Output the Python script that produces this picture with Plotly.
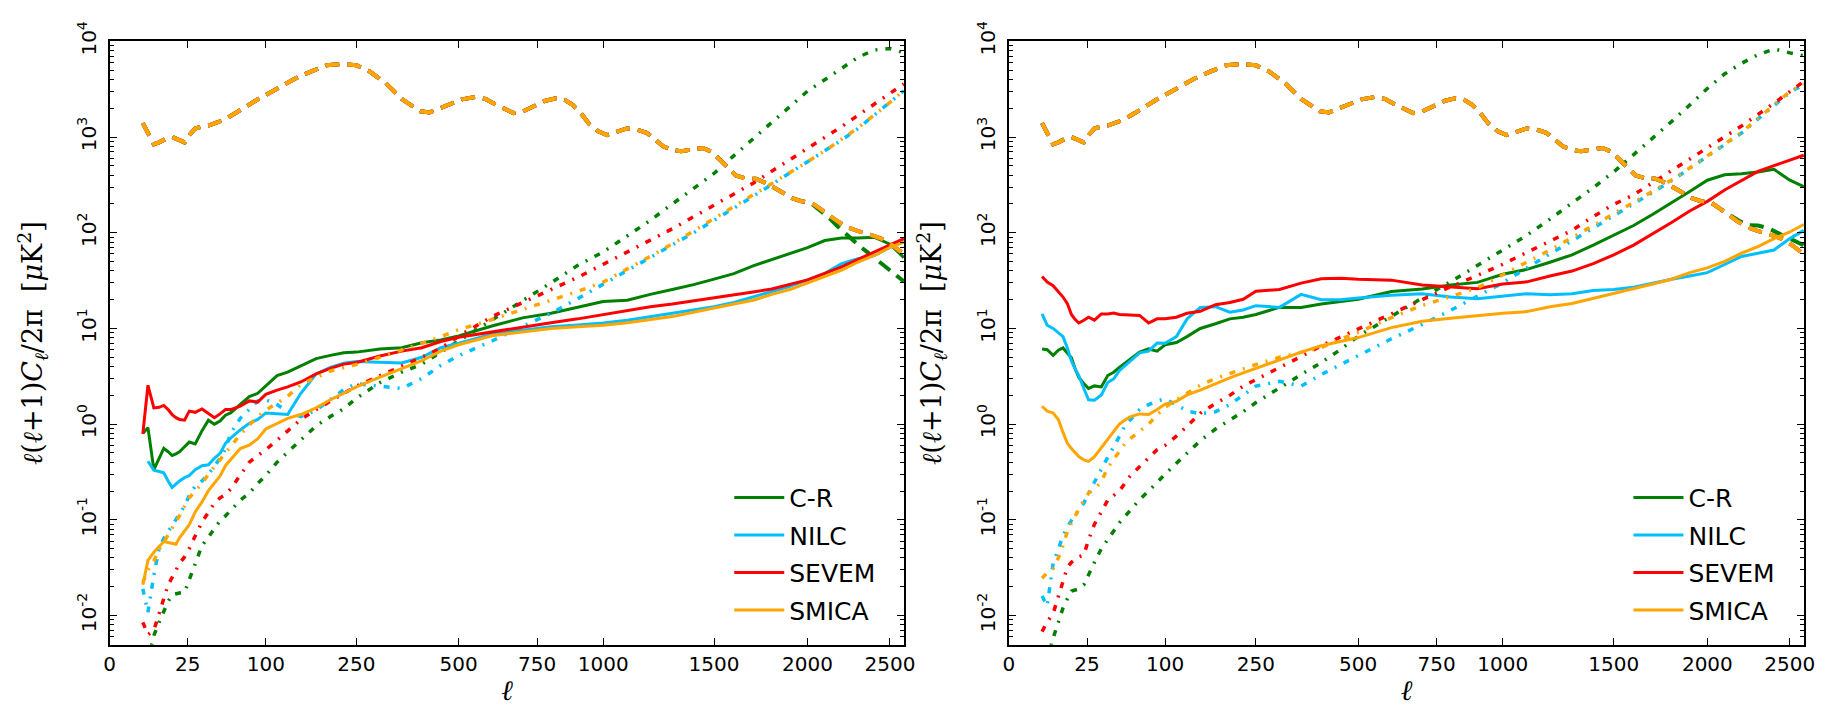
import numpy as np
import plotly.graph_objects as go

# Multipole grid (bin centres) shared by residual and noise spectra
ell = [4.5, 6, 8, 10, 12, 14, 16, 18, 20, 23, 26,
       30, 35, 40, 45, 50, 55, 60, 70, 80, 90, 100,
       115, 130, 150, 175, 200, 225, 250, 300, 350, 400, 450,
       500, 600, 700, 800, 900, 1000, 1100, 1200, 1300, 1400, 1500,
       1600, 1700, 1800, 1900, 2000, 2100, 2200, 2300, 2400, 2500, 2590]

# ---- left panel: residual spectra (solid) ----
cr_res_L = [0.80, 0.92, 0.335, 0.44, 0.56, 0.515, 0.47, 0.49, 0.515, 0.58, 0.65,
            0.62, 0.855, 1.10, 1.00, 1.08, 1.24, 1.31, 1.60, 1.94, 2.10, 2.51,
            3.22, 3.49, 4.07, 4.84, 5.23, 5.57, 5.66, 6.11, 6.3, 7.1, 7.6,
            8.36, 10.6, 12.9, 14.4, 16.6, 19.1, 19.7, 22.7, 25.5, 28.7, 32.8,
            37.4, 45.1, 52.3, 60.2, 70, 83, 88, 88, 90, 76, 55]
nilc_res_L = [None, 0.41, 0.33, 0.32, 0.31, 0.255, 0.218, 0.236, 0.255, 0.276, 0.29,
              0.335, 0.368, 0.376, 0.44, 0.495, 0.63, 0.715, 0.87, 1.02, 1.12, 1.31,
              1.28, 1.26, 2.10, 3.35, 3.92, 4.34, 4.51, 4.40, 4.35, 5.0, 6.3,
              7.0, 8.7, 9.6, 10.4, 10.9, 11.4, 12.2, 13.3, 14.2, 15.4, 16.9,
              18.7, 21.3, 24.2, 27.6, 32.2, 37.7, 47.6, 53.5, 57.9, 70.3, 81]
sevem_res_L = [0.79, 2.55, 1.48, 1.50, 1.57, 1.42, 1.26, 1.17, 1.12, 1.10, 1.37,
               1.33, 1.44, 1.28, 1.17, 1.28, 1.42, 1.42, 1.54, 1.75, 1.70, 2.05,
               2.27, 2.45, 2.76, 3.35, 3.83, 4.24, 4.41, 5.15, 5.8, 6.3, 7.3,
               8.1, 9.25, 10.4, 11.5, 12.6, 14.0, 15.4, 16.9, 18.0, 19.4, 20.7,
               22.3, 24.0, 25.9, 28.7, 32.2, 37.7, 44, 52.7, 62.6, 75, 87]
smica_res_L = [0.021, 0.0377, 0.0458, 0.0523, 0.0593, 0.058, 0.0565, 0.0557, 0.065, 0.076, 0.089,
               0.121, 0.154, 0.202, 0.242, 0.287, 0.368, 0.424, 0.557, 0.602, 0.704, 0.89,
               1.02, 1.15, 1.26, 1.48, 1.8, 2.1, 2.45, 3.1, 3.8, 4.6, 5.8,
               6.76, 8.4, 9.25, 10.0, 10.4, 10.8, 11.5, 12.4, 13.3, 14.8, 16.2,
               18.0, 19.7, 22.7, 25.5, 29.8, 34.9, 40.7, 49.5, 57.9, 70.3, 80]

# ---- left panel: noise spectra (dash-dot) ----
cr_noise_L = [0.002, 0.0035, 0.0062, 0.0085, 0.011, 0.014, 0.0165, 0.017, 0.0172, 0.0175, 0.024,
              0.036, 0.054, 0.066, 0.08, 0.098, 0.11, 0.126, 0.16, 0.19, 0.24, 0.29,
              0.40, 0.51, 0.68, 0.96, 1.2, 1.45, 1.87, 2.72, 3.49, 4.24, 5.65,
              7.4, 12.3, 19.5, 30, 45.7, 63, 92.5, 135, 200, 291, 417,
              640, 962, 1430, 2100, 3020, 3980, 5220, 6820, 8130, 8400, 7600]
nilc_noise_L = [0.019, 0.0108, 0.0265, 0.05, 0.064, 0.076, 0.088, 0.1, 0.115, 0.14, 0.18,
                0.225, 0.255, 0.3, 0.368, 0.44, 0.55, 0.8, 1.15, 1.45, 1.75, 1.8,
                1.6, 1.35, 1.2, 1.4, 1.8, 2.3, 2.65, 2.5, 2.36, 3.0, 4.1,
                5.2, 7.4, 10.5, 14.4, 20.5, 29, 40, 55, 74, 100, 135,
                180, 240, 320, 420, 545, 705, 930, 1230, 1680, 2280, 3050]
sevem_noise_L = [0.0085, 0.0063, 0.007, 0.0105, 0.0155, 0.021, 0.025, 0.03, 0.035, 0.041, 0.05,
                 0.068, 0.095, 0.12, 0.15, 0.17, 0.183, 0.21, 0.298, 0.40, 0.47, 0.54,
                 0.68, 0.84, 1.12, 1.42, 1.75, 2.1, 2.5, 3.2, 4.05, 5.0, 6.2,
                 8.3, 13.3, 18.6, 25.5, 34.3, 46.8, 63, 83.3, 110, 147, 194,
                 254, 330, 440, 580, 759, 989, 1285, 1690, 2206, 2864, 3600]
smica_noise_L = [0.022, 0.03, 0.037, 0.049, 0.058, 0.07, 0.08, 0.097, 0.11, 0.14, 0.17,
                 0.2, 0.24, 0.3, 0.36, 0.42, 0.5, 0.58, 0.78, 0.98, 1.2, 1.4,
                 1.65, 1.95, 2.6, 3.1, 3.6, 3.9, 4.2, 5.0, 5.9, 7.0, 8.2,
                 9.7, 12.4, 15.7, 19.5, 24.4, 30.5, 41.6, 56.7, 76.6, 104, 140,
                 187, 247, 326, 426, 553, 716, 950, 1250, 1700, 2300, 3100]

# ---- right panel: residual spectra (solid) ----
cr_res_R = [6.1, 6.0, 5.23, 5.93, 6.26, 5.6, 4.95, 3.77, 3.1, 2.65, 2.36,
            2.51, 2.45, 3.22, 3.49, 3.92, 4.34, 4.76, 5.66, 6.11, 5.8, 6.76,
            7.14, 8.22, 10, 11.2, 12.6, 13.1, 14, 16.6, 16.6, 18, 19,
            20.2, 24.3, 25.9, 28.5, 30.3, 36.8, 41.4, 49.2, 58.8, 74.3, 94,
            119, 156, 205, 270, 354, 404, 414, 431, 460, 354, 303]
nilc_res_R = [14.2, 10.8, 10, 9.0, 8.2, 6.26, 4.58, 3.77, 3.22, 2.36, 1.8,
              1.78, 2.02, 2.72, 2.98, 3.62, 4.07, 4.58, 5.57, 5.8, 7.03, 7.0,
              8.22, 12.6, 16.6, 16.9, 14.8, 15.6, 17.3, 16.6, 22.7, 20, 20,
              20.8, 22.2, 23.1, 21.3, 20.5, 21.7, 23.1, 22.5, 23.1, 24.9, 25.5,
              27, 29.9, 32.7, 35.4, 38.3, 46.6, 56.6, 61.1, 66.1, 86.9, 106]
sevem_res_R = [34.9, 30.5, 28, 24.5, 21.3, 18.2, 14, 12.4, 11.4, 12.2, 13.1,
               12.2, 14.2, 14.2, 14.5, 14, 13.9, 14, 13.7, 11.4, 12.6, 12.6,
               13.1, 14.4, 15.1, 17.7, 18.7, 20.2, 24.5, 25.5, 29.8, 33, 33.5,
               32.7, 32, 28.5, 27, 26, 29.1, 30.7, 35.4, 39.8, 47.6, 58.8,
               74.3, 97.6, 128, 169, 213, 280, 354, 437, 503, 574, 646]
smica_res_R = [1.54, 1.37, 1.31, 1.12, 0.82, 0.63, 0.557, 0.504, 0.458, 0.424, 0.408,
               0.458, 0.57, 0.703, 0.84, 1.0, 1.1, 1.19, 1.28, 1.26, 1.42, 1.62,
               1.73, 2.02, 2.27, 2.65, 3.05, 3.43, 3.83, 4.76, 5.66, 6.6, 7.3,
               8.03, 10.2, 11.9, 12.8, 13.7, 14.4, 15, 16.9, 18.2, 20.5, 23.1,
               25.9, 29.1, 32.7, 38.3, 43, 50.3, 61.1, 71.5, 86.9, 102, 122]

# ---- right panel: noise spectra (dash-dot) ----
cr_noise_R = [0.002, 0.0035, 0.0058, 0.0085, 0.012, 0.015, 0.018, 0.0185, 0.019, 0.021, 0.027,
              0.036, 0.05, 0.063, 0.078, 0.093, 0.108, 0.125, 0.163, 0.2, 0.25, 0.3,
              0.39, 0.5, 0.67, 0.89, 1.1, 1.35, 1.68, 2.4, 3.3, 4.4, 6.0,
              8.3, 13.5, 20.8, 30.8, 45.8, 66.4, 94, 139, 203, 296, 433,
              650, 971, 1452, 2160, 3220, 4570, 5890, 7260, 8320, 7590, 7080]
nilc_noise_R = [0.016, 0.0126, 0.035, 0.05, 0.068, 0.085, 0.1, 0.113, 0.125, 0.15, 0.19,
                0.25, 0.33, 0.45, 0.58, 0.75, 0.95, 1.1, 1.42, 1.6, 1.75, 1.84,
                1.6, 1.38, 1.28, 1.35, 1.6, 2.0, 2.5, 2.8, 2.5, 3.3, 4.2,
                5.2, 7.8, 11, 15.5, 22, 30, 43, 60, 82, 110, 150,
                200, 265, 350, 470, 625, 830, 1100, 1540, 2120, 2930, 3550]
sevem_noise_R = [0.0068, 0.0086, 0.0105, 0.016, 0.024, 0.032, 0.036, 0.039, 0.041, 0.043, 0.062,
                 0.09, 0.124, 0.16, 0.18, 0.2, 0.24, 0.285, 0.36, 0.44, 0.54, 0.6,
                 0.75, 0.95, 1.3, 1.65, 2.0, 2.5, 2.9, 3.9, 5.1, 6.6, 8.1,
                 9.9, 14.3, 20, 27.3, 35.8, 46.9, 62.4, 81.8, 106, 148, 198,
                 249, 333, 442, 585, 769, 1007, 1303, 1700, 2260, 2985, 3800]
smica_noise_R = [0.0245, 0.028, 0.031, 0.04, 0.054, 0.075, 0.093, 0.11, 0.13, 0.16, 0.19,
                 0.21, 0.25, 0.35, 0.43, 0.52, 0.62, 0.7, 0.84, 1.0, 1.25, 1.5,
                 1.8, 2.1, 2.55, 3.0, 3.4, 3.8, 4.2, 5.0, 5.6, 6.3, 7.7,
                 9.1, 13, 17.4, 21.5, 26.6, 36.4, 49, 66, 89, 118.5, 157,
                 208, 273, 356, 475, 632, 836, 1117, 1563, 2168, 2987, 3600]

# ---- CMB power spectrum (dashed), common to all methods ----
ell_cmb = [4.5, 6, 8, 10, 13, 16, 19, 23, 26, 30,
           35, 40, 48, 55, 65, 75, 90, 110, 140, 165,
           193, 220, 250, 277, 313, 350, 396, 420, 462, 510,
           548, 580, 610, 640, 670, 700, 740, 780, 817, 850,
           880, 910, 943, 980, 1016, 1060, 1098, 1140, 1184, 1220,
           1258, 1300, 1342, 1390, 1445, 1490, 1526, 1570, 1610, 1660,
           1714, 1770, 1821, 1870, 1912, 1960, 2024, 2070, 2121, 2180,
           2239, 2300, 2361, 2444, 2510, 2590]
cmb = [1400, 1100, 840, 880, 960, 1000, 950, 880, 1050, 1230,
       1290, 1320, 1430, 1550, 1780, 2050, 2480, 3050, 4050, 4800,
       5620, 5800, 5620, 4870, 3650, 2500, 1860, 1810, 2120, 2480,
       2620, 2500, 2200, 1950, 1780, 1850, 2120, 2400, 2540, 2450,
       2170, 1800, 1380, 1150, 1050, 1150, 1230, 1200, 1110, 950,
       800, 730, 713, 740, 770, 700, 586, 470, 397, 370,
       367, 330, 291, 255, 230, 215, 205, 180, 156, 130,
       114, 104, 97.7, 87, 75, 60]
# C-R spectrum departs from the others over the last ten bins
cmb_cr_tail_L = [200, 172, 145, 115, 92, 75, 62, 48, 39, 31]
cmb_cr_tail_R = [205, 180, 158, 135, 120, 119, 112, 96, 86, 74]

methods = ["C-R", "NILC", "SEVEM", "SMICA"]
colors = ["#008000", "#00BFFF", "#FF0000", "#FFA500"]

x_ticks = [0, 25, 100, 250, 500, 750, 1000, 1500, 2000, 2500]
y_ticks = [1e-2, 1e-1, 1e0, 1e1, 1e2, 1e3, 1e4]
y_ticktext = ["10<sup>-2</sup>", "10<sup>-1</sup>", "10<sup>0</sup>", "10<sup>1</sup>",
              "10<sup>2</sup>", "10<sup>3</sup>", "10<sup>4</sup>"]

ELL_MAX = 2593
Y_MIN = 0.00494

DASHED = "14px,8px"
DASHDOT = "6px,8px,2px,8px"

panels = [
    dict(xa="x", ya="y", legend="legend",
         res=[cr_res_L, nilc_res_L, sevem_res_L, smica_res_L],
         noise=[cr_noise_L, nilc_noise_L, sevem_noise_L, smica_noise_L],
         cr_tail=cmb_cr_tail_L),
    dict(xa="x2", ya="y2", legend="legend2",
         res=[cr_res_R, nilc_res_R, sevem_res_R, smica_res_R],
         noise=[cr_noise_R, nilc_noise_R, sevem_noise_R, smica_noise_R],
         cr_tail=cmb_cr_tail_R),
]

x_res = np.sqrt(np.array(ell, dtype=float))
x_cmb = np.sqrt(np.array(ell_cmb, dtype=float))

fig = go.Figure()
for p in panels:
    for i, (name, col) in enumerate(zip(methods, colors)):
        spec = list(cmb)
        if name == "C-R":
            spec = spec[:-len(p["cr_tail"])] + list(p["cr_tail"])
        fig.add_trace(go.Scatter(
            x=x_cmb, y=spec, mode="lines", xaxis=p["xa"], yaxis=p["ya"],
            line=dict(color=col, width=4, dash=DASHED), showlegend=False,
            hoverinfo="skip"))
        fig.add_trace(go.Scatter(
            x=x_res, y=p["noise"][i], mode="lines", xaxis=p["xa"], yaxis=p["ya"],
            line=dict(color=col, width=3.5, dash=DASHDOT), showlegend=False,
            hoverinfo="skip"))
        fig.add_trace(go.Scatter(
            x=x_res, y=p["res"][i], mode="lines", xaxis=p["xa"], yaxis=p["ya"],
            line=dict(color=col, width=3), name=name, legend=p["legend"],
            legendgroup=p["legend"] + name, connectgaps=False))

W, H = 1837, 709
left_dom = [104.7 / W, 906.7 / W]
right_dom = [1012.3 / W, 1815.0 / W]
y_dom = [1 - 643.0 / H, 1 - 22.0 / H]

tick_font = dict(family="DejaVu Sans", size=20, color="black")
y_title = ("<i>ℓ</i>(<i>ℓ</i>+1)<i>C</i><sub><i>ℓ</i></sub>/2π"
           "  [<i>μ</i>K<sup>2</sup>]")


def x_axis(domain, anchor):
    return dict(
        domain=domain, anchor=anchor, range=[0, np.sqrt(ELL_MAX)],
        tickvals=np.sqrt(np.array(x_ticks, dtype=float)),
        ticktext=[str(v) for v in x_ticks],
        ticks="inside", ticklen=7, tickwidth=1.3, tickcolor="black",
        showline=True, linecolor="black", linewidth=2, mirror="ticks",
        showgrid=False, zeroline=False, tickfont=tick_font,
        title=dict(text="<i>ℓ</i>", font=dict(family="DejaVu Serif", size=28,
                                               color="black"), standoff=6))


minor_vals = [m * 10.0 ** e for e in range(-3, 4) for m in range(2, 10)]


def y_axis(anchor):
    return dict(
        domain=y_dom, anchor=anchor, type="log",
        range=[np.log10(Y_MIN), 4],
        tickvals=y_ticks, ticktext=y_ticktext, tickangle=-90,
        ticks="inside", ticklen=7, tickwidth=1.3, tickcolor="black",
        minor=dict(tickvals=minor_vals, ticks="inside", ticklen=4,
                   tickwidth=1, tickcolor="black", showgrid=False),
        showline=True, linecolor="black", linewidth=2, mirror="ticks",
        showgrid=False, zeroline=False, tickfont=tick_font,
        ticklabelstandoff=4,
        title=dict(text=y_title, font=dict(family="DejaVu Serif", size=27,
                                           color="black"), standoff=24))


legend_common = dict(
    xanchor="left", yanchor="top", bgcolor="rgba(0,0,0,0)", borderwidth=0,
    font=dict(family="DejaVu Sans", size=25, color="black"),
    tracegroupgap=2, itemwidth=50)

fig.update_layout(
    width=W, height=H,
    margin=dict(l=0, r=0, t=0, b=0),
    paper_bgcolor="white", plot_bgcolor="white",
    xaxis=x_axis(left_dom, "y"),
    yaxis=y_axis("x"),
    xaxis2=x_axis(right_dom, "y2"),
    yaxis2=y_axis("x2"),
    legend=dict(x=730 / W, y=1 - 468 / H, **legend_common),
    legend2=dict(x=1637.6 / W, y=1 - 468 / H, **legend_common),
)

fig.write_html("out.html")
